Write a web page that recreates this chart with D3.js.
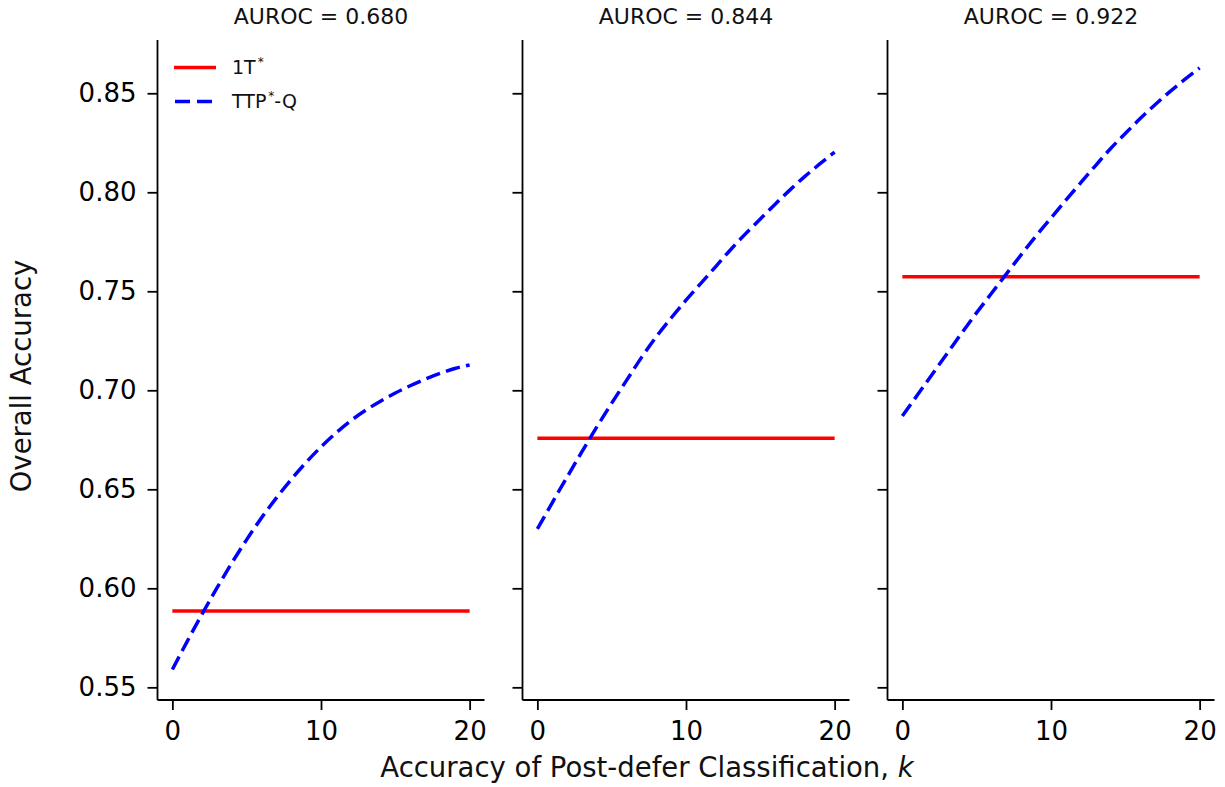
<!DOCTYPE html>
<html>
<head>
<meta charset="utf-8">
<script src="https://cdn.jsdelivr.net/npm/d3@7"></script>
<style>
  body { margin: 0; background: #fff; }
  svg { display: block; font-family: "DejaVu Sans", sans-serif; }
</style>
</head>
<body>
<svg id="chart" width="1225" height="787"></svg>
<script>
// ---- data ----
const panelTitles = ["AUROC = 0.680", "AUROC = 0.844", "AUROC = 0.922"];
const kValues = [0,1,2,3,4,5,6,7,8,9,10,11,12,13,14,15,16,17,18,19,20];
const oneTStar = [0.5885, 0.6758, 0.7574];
const ttpqAuroc680 = [0.559,0.5732,0.587,0.6002,0.6128,0.6246,0.6356,0.6457,0.655,0.6636,0.6714,0.6784,0.6846,0.6899,0.6945,0.6986,0.7023,0.7056,0.7085,0.711,0.7128];
const ttpqAuroc844 = [0.630,0.6432,0.6562,0.669,0.6815,0.6935,0.705,0.7165,0.727,0.7365,0.7455,0.754,0.7625,0.771,0.779,0.7865,0.794,0.8012,0.808,0.8143,0.8203];
const ttpqAuroc922 = [0.687,0.6975,0.708,0.7185,0.729,0.7392,0.749,0.7588,0.7685,0.778,0.787,0.796,0.8048,0.8135,0.822,0.8297,0.8372,0.8442,0.8508,0.857,0.8628];
const ttpqSeries = [ttpqAuroc680, ttpqAuroc844, ttpqAuroc922];
const yTicks = [0.55, 0.60, 0.65, 0.70, 0.75, 0.80, 0.85];
const xTicks = [0, 10, 20];
const legendLabels = ["1T", "TTP"];

// ---- layout ----
const svg = d3.select("#chart");
const panelLefts = [157.5, 522.5, 887.5];
const panelWidth = 327;
const plotTop = 40, plotBottom = 700;
const red = "#ff0000", blue = "#0000ff";

const y = d3.scaleLinear().domain([0.5436, 0.8769]).range([plotBottom, plotTop]);

panelLefts.forEach((left, i) => {
  const x = d3.scaleLinear().domain([-1, 21]).range([left, left + panelWidth]);
  const g = svg.append("g");

  // y axis
  const yAxis = d3.axisLeft(y).tickValues(yTicks).tickSizeInner(10).tickSizeOuter(0).tickPadding(11)
    .tickFormat(i === 0 ? d3.format(".2f") : () => "");
  const ya = g.append("g").attr("transform", `translate(${left},0)`).call(yAxis);
  ya.select(".domain").attr("d", `M0,${plotTop}V${plotBottom}`);

  // x axis
  const xAxis = d3.axisBottom(x).tickValues(xTicks).tickSizeInner(10).tickSizeOuter(0).tickPadding(12)
    .tickFormat(d3.format("d"));
  const xa = g.append("g").attr("transform", `translate(0,${plotBottom})`).call(xAxis);
  xa.select(".domain").attr("d", `M${left},0H${left + panelWidth}`);

  [ya, xa].forEach(a => {
    a.selectAll(".domain").attr("stroke", "#000").attr("stroke-width", 1.8);
    a.selectAll(".tick line").attr("stroke", "#000").attr("stroke-width", 1.8);
    a.selectAll(".tick text").attr("fill", "#000").style("font-size", "26px")
      .style("font-family", "DejaVu Sans, sans-serif");
  });

  // title
  g.append("text").attr("x", left + panelWidth / 2).attr("y", 24)
    .attr("text-anchor", "middle").style("font-size", "22px").attr("fill", "#111")
    .text(panelTitles[i]);

  // 1T* horizontal line
  const redData = kValues.map(k => ({ k, v: oneTStar[i] }));
  g.append("path").datum(redData)
    .attr("fill", "none").attr("stroke", red).attr("stroke-width", 3.5)
    .attr("d", d3.line().x(d => x(d.k)).y(d => y(d.v)));

  // TTP*-Q curve
  const blueData = kValues.map((k, j) => ({ k, v: ttpqSeries[i][j] }));
  g.append("path").datum(blueData)
    .attr("fill", "none").attr("stroke", blue).attr("stroke-width", 3.5)
    .attr("stroke-dasharray", "14.5,6.3")
    .attr("d", d3.line().curve(d3.curveMonotoneX).x(d => x(d.k)).y(d => y(d.v)));
});

// legend (first panel)
const leg = svg.append("g");
leg.append("line").attr("x1", 174).attr("x2", 216).attr("y1", 67.5).attr("y2", 67.5)
  .attr("stroke", red).attr("stroke-width", 3.5);
leg.append("line").attr("x1", 175).attr("x2", 213).attr("y1", 101.5).attr("y2", 101.5)
  .attr("stroke", blue).attr("stroke-width", 3.5).attr("stroke-dasharray", "15,7");
const t1 = leg.append("text").attr("x", 232).attr("y", 74).style("font-size", "19px").attr("fill", "#111");
t1.append("tspan").text(legendLabels[0]);
t1.append("tspan").attr("dy", -8).attr("dx", 2).style("font-size", "12px").text("*");
const t2 = leg.append("text").attr("x", 232).attr("y", 108).style("font-size", "19px").attr("fill", "#111");
t2.append("tspan").text(legendLabels[1]);
t2.append("tspan").attr("dy", -8).attr("dx", 2).style("font-size", "12px").text("*");
t2.append("tspan").attr("dy", 8).text("-Q");

// axis labels
svg.append("text").attr("transform", "translate(31,376) rotate(-90)")
  .attr("text-anchor", "middle").style("font-size", "27.5px").attr("fill", "#111")
  .text("Overall Accuracy");
const xl = svg.append("text").attr("x", 647).attr("y", 777)
  .attr("text-anchor", "middle").style("font-size", "27.5px").attr("fill", "#111");
xl.append("tspan").text("Accuracy of Post-defer Classification, ");
xl.append("tspan").style("font-style", "italic").text("k");
</script>
</body>
</html>
